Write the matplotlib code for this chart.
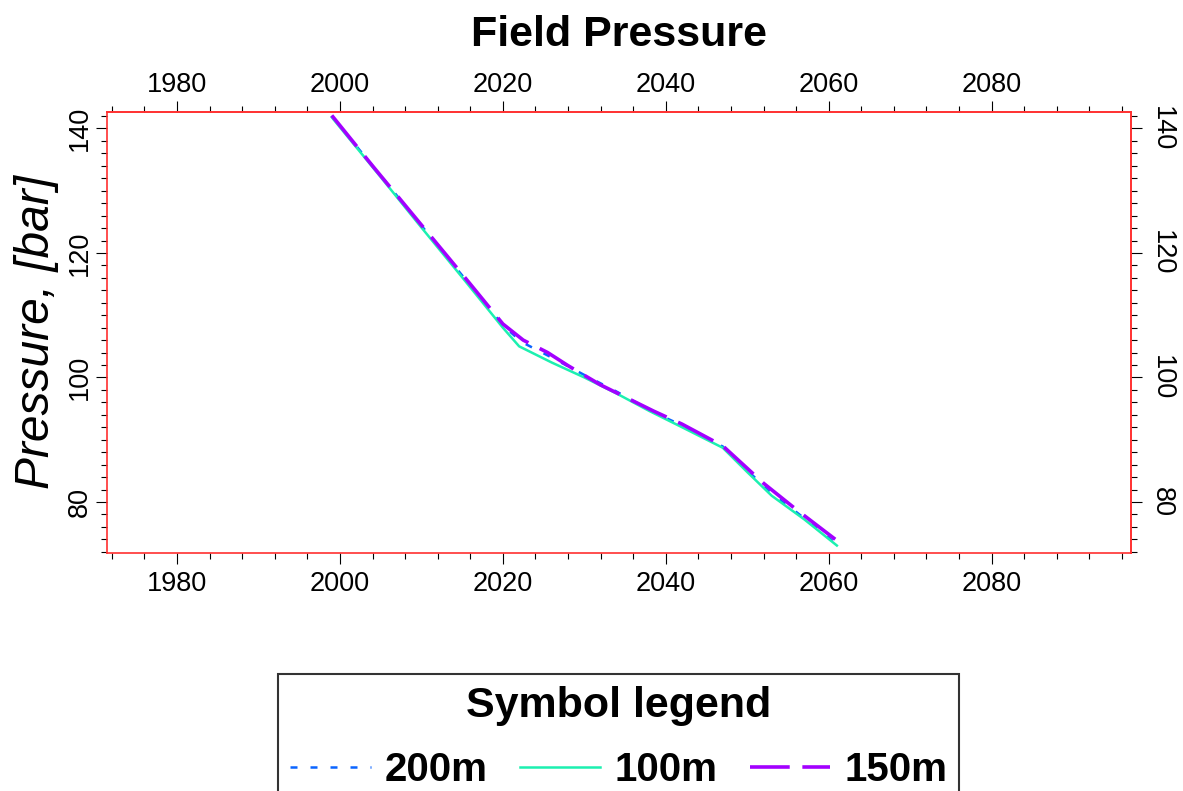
import matplotlib
matplotlib.use('Agg')
import matplotlib.pyplot as plt
from matplotlib.ticker import MultipleLocator

plt.rcParams['font.family'] = ['Liberation Sans', 'DejaVu Sans']

# Field pressure forecast for three well spacings
years_200 = [1999.0, 2004.0, 2010.0, 2015.0, 2020.0, 2022.3, 2026.0, 2030.0, 2034.0,
             2038.5, 2042.0, 2047.0, 2050.0, 2053.0, 2056.0, 2059.0, 2061.0]
pres_200 = [142.0, 134.0, 124.4, 116.4, 108.4, 105.7, 103.2, 100.4, 97.7,
            94.4, 92.3, 88.9, 85.1, 81.3, 78.4, 75.3, 73.2]

years_100 = [1999.0, 2005.0, 2010.0, 2015.0, 2020.0, 2022.0, 2026.0, 2030.0, 2034.0,
             2038.0, 2042.0, 2047.0, 2050.0, 2053.0, 2057.0, 2061.0]
pres_100 = [141.8, 132.2, 124.1, 116.1, 108.0, 105.0, 102.4, 100.0, 97.4,
            94.6, 92.0, 88.7, 84.8, 81.0, 77.2, 73.0]

years_150 = [1999.0, 2004.0, 2010.0, 2015.0, 2020.0, 2022.5, 2025.5, 2028.0, 2032.0,
             2038.5, 2042.0, 2047.0, 2052.0, 2056.0, 2059.0, 2061.0, 2062.0]
pres_150 = [142.1, 134.0, 124.5, 116.6, 108.6, 106.0, 104.0, 101.9, 98.8,
            94.6, 92.5, 89.0, 83.0, 78.8, 75.8, 73.8, 74.0]

fig = plt.figure(figsize=(11.83, 7.91), dpi=100)
ax = fig.add_axes([0.0904, 0.3009, 0.8656, 0.5579])

ax.plot(years_200, pres_200, color='#0a64ff', lw=1.8, ls=(0, (2.8, 5.2)), label='200m')
ax.plot(years_100, pres_100, color='#1cf0b0', lw=1.8, ls='-', label='100m')
ax.plot(years_150, pres_150, color='#a300ff', lw=2.6, ls=(0, (11, 3.5)), label='150m')

ax.set_xlim(1971.4, 2097.1)
ax.set_ylim(71.8, 142.7)

for s in ax.spines.values():
    s.set_color('#ff3030')
    s.set_linewidth(1.2)

# extra axes for the top and right tick labels
secx = ax.secondary_xaxis('top')
secy = ax.secondary_yaxis('right')
for s in list(secx.spines.values()) + list(secy.spines.values()):
    s.set_color('#ff3030')
    s.set_linewidth(1.2)

for a in (ax.xaxis, secx.xaxis):
    a.set_major_locator(MultipleLocator(20))
    a.set_minor_locator(MultipleLocator(4))
for a in (ax.yaxis, secy.yaxis):
    a.set_major_locator(MultipleLocator(20))
    a.set_minor_locator(MultipleLocator(2))

for a in (ax, secx, secy):
    a.tick_params(which='major', direction='out', length=8, width=0.8,
                  color='black', labelsize=19.5, pad=5)
    a.tick_params(which='minor', direction='out', length=4, width=0.8, color='black')

secx.tick_params(axis='x', pad=2)
ax.tick_params(axis='y', labelrotation=90, pad=2)
secy.tick_params(axis='y', labelrotation=-90, pad=5)
for t in ax.get_yticklabels():
    t.set_va('center')
for t in secy.get_yticklabels():
    t.set_va('center')

ax.set_title('Field Pressure', fontsize=31, fontweight='bold', pad=47)
ax.set_ylabel('Pressure, [bar]', fontsize=34.5, fontstyle='italic', labelpad=6)

leg = fig.legend(loc='upper center', bbox_to_anchor=(0.523, 0.148), ncol=3,
                 title='Symbol legend', frameon=True, fancybox=False,
                 prop={'size': 29, 'weight': 'bold'},
                 title_fontproperties={'size': 31, 'weight': 'bold'},
                 handlelength=2.0, handletextpad=0.35, columnspacing=0.8,
                 labelspacing=0.62, borderpad=0.3, borderaxespad=0)
leg.get_frame().set_edgecolor('black')
leg.get_frame().set_linewidth(1.5)

fig.savefig('out.png', dpi=100)
